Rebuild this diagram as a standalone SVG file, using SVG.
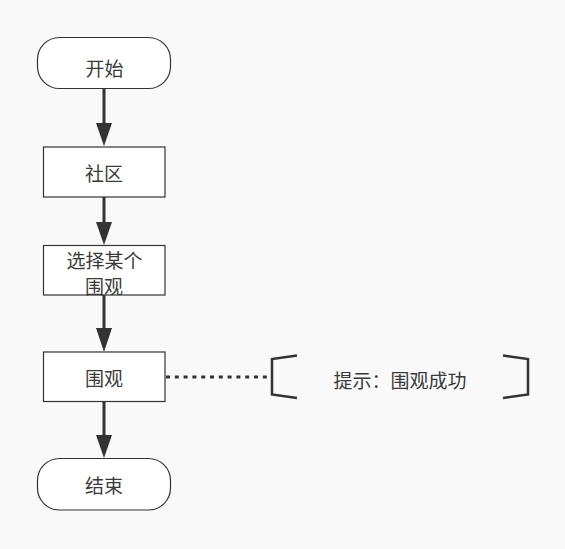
<svg xmlns="http://www.w3.org/2000/svg" width="565" height="549" viewBox="0 0 565 549">
  <defs>
    <style>
      .shape { fill: #ffffff; stroke: #333333; stroke-width: 1.2; }
      .label { font-family: "Noto Sans CJK SC", "Liberation Sans", sans-serif; font-size: 19px; fill: #3a3a3a; text-anchor: middle; dominant-baseline: central; }
      .flow { stroke: #333333; stroke-width: 3; fill: none; }
      .head { fill: #333333; }
      .bracket { stroke: #333333; stroke-width: 2.5; fill: none; }
    </style>
  </defs>
  <rect width="565" height="549" fill="#f9f9f9"/>

  <g id="connectors">
    <path class="flow" d="M104,89 L104,124" />
    <path class="head" d="M96,123 L112,123 L104,146 Z"/>
    <path class="flow" d="M104,197 L104,223" />
    <path class="head" d="M96,222 L112,222 L104,245 Z"/>
    <path class="flow" d="M104,295 L104,329" />
    <path class="head" d="M96,328 L112,328 L104,352 Z"/>
    <path class="flow" d="M104,402 L104,436" />
    <path class="head" d="M96,435 L112,435 L104,458 Z"/>
    <path d="M166,377 L269,377" stroke="#333333" stroke-width="3" stroke-dasharray="4 4.8" fill="none"/>
  </g>

  <g id="start">
    <rect class="shape" x="37.5" y="37.5" width="133" height="51" rx="22" ry="22"/>
    <text class="label" x="104.5" y="67">开始</text>
  </g>

  <g id="community">
    <rect class="shape" x="43.5" y="147" width="121.5" height="50"/>
    <text class="label" x="104" y="172">社区</text>
  </g>

  <g id="choose">
    <rect class="shape" x="43.5" y="245.5" width="121.5" height="49.5"/>
    <text class="label" x="104.5" y="259">选择某个</text>
    <text class="label" x="104" y="285.5">围观</text>
  </g>

  <g id="watch">
    <rect class="shape" x="43.5" y="352" width="121.5" height="49.5"/>
    <text class="label" x="104" y="377">围观</text>
  </g>

  <g id="end">
    <rect class="shape" x="37.5" y="458.5" width="133" height="51.5" rx="22" ry="22"/>
    <text class="label" x="104" y="484">结束</text>
  </g>

  <g id="hint">
    <path class="bracket" d="M297,355.5 L272,359 L272,394.5 L297,398" />
    <path class="bracket" d="M503,355.5 L528,359 L528,394.5 L503,398" />
    <text class="label" x="400" y="379">提示：围观成功</text>
  </g>
</svg>
